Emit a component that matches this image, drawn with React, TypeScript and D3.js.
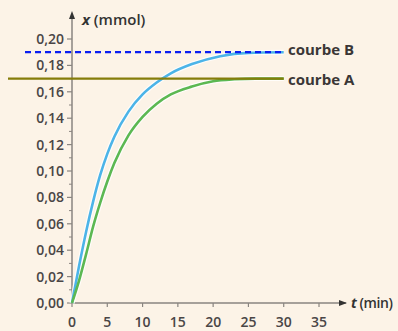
import React from 'react';
import * as d3 from 'd3';

const timesB = [0, 1, 2, 3, 4, 5, 6, 8, 10, 12, 14, 17, 21, 25, 30];
const courbeB = [0, 0.028, 0.054, 0.077, 0.097, 0.113, 0.126, 0.145, 0.158, 0.167, 0.174, 0.181, 0.187, 0.1895, 0.19];
const timesA = [0, 1, 2, 3, 4, 5, 6, 8, 10, 12, 14, 17, 20, 23, 26, 30];
const courbeA = [0, 0.017, 0.037, 0.058, 0.076, 0.092, 0.106, 0.127, 0.141, 0.151, 0.158, 0.164, 0.168, 0.1695, 0.17, 0.17];
const asymptoteB = 0.19;
const asymptoteA = 0.17;
const xTicks = [0, 5, 10, 15, 20, 25, 30, 35];
const yTicks = [0, 0.02, 0.04, 0.06, 0.08, 0.1, 0.12, 0.14, 0.16, 0.18, 0.2];
const yMinor = [0.01, 0.03, 0.05, 0.07, 0.09, 0.11, 0.13, 0.15, 0.17, 0.19];

const W = 398;
const H = 331;
const font = '"Open Sans", sans-serif';

const App = () => {
  const x = d3.scaleLinear().domain([0, 35]).range([72, 319]);
  const y = d3.scaleLinear().domain([0, 0.2]).range([303, 39]);

  const makePath = (ts: number[], vs: number[]) =>
    d3.line<number>()
      .x((_, i) => x(ts[i]))
      .y(d => y(d))
      .curve(d3.curveMonotoneX)(vs) || '';

  const pathB = makePath(timesB, courbeB);
  const pathA = makePath(timesA, courbeA);

  const axisColor = '#8a8580';
  const textColor = '#4a4646';

  return (
    <>
      <style>{`body{margin:0}`}</style>
      <svg width={W} height={H} style={{ display: 'block', fontFamily: font }}>
        <rect width={W} height={H} fill="#fcf3e7" />

        {/* axes */}
        <line x1={x(0)} y1={y(0)} x2={346} y2={y(0)} stroke={axisColor} strokeWidth={1.5} />
        <line x1={x(0)} y1={y(0)} x2={x(0)} y2={14} stroke={axisColor} strokeWidth={1.5} />
        <path d={`M${347},${y(0)} l-8,-3 l0,6 z`} fill="#333" />
        <path d={`M${x(0)},${11} l-3,8 l6,0 z`} fill="#333" />

        {/* y ticks */}
        {yTicks.map(t => (
          <g key={`y${t}`}>
            <line x1={x(0) - 5} x2={x(0)} y1={y(t)} y2={y(t)} stroke={axisColor} strokeWidth={1.2} />
            <text x={64} y={y(t) + 5} textAnchor="end" fontSize={14} fontWeight={600} fill={textColor}>
              {t.toFixed(2).replace('.', ',')}
            </text>
          </g>
        ))}
        {yMinor.map(t => (
          <line key={`m${t}`} x1={x(0) - 3} x2={x(0)} y1={y(t)} y2={y(t)} stroke={axisColor} strokeWidth={1} />
        ))}

        {/* x ticks */}
        {xTicks.map(t => (
          <g key={`x${t}`}>
            <line x1={x(t)} x2={x(t)} y1={y(0)} y2={y(0) + 4} stroke={axisColor} strokeWidth={1.2} />
            <text x={x(t)} y={327} textAnchor="middle" fontSize={14} fontWeight={600} fill={textColor}>
              {t}
            </text>
          </g>
        ))}

        {/* axis titles */}
        <text x={82} y={25} fontSize={15} fontWeight={600} fill="#333">
          <tspan fontStyle="italic" fontWeight={700}>x</tspan> (mmol)
        </text>
        <text x={351} y={308} fontSize={14} fontWeight={600} fill="#333" letterSpacing={-0.4}>
          <tspan fontStyle="italic" fontWeight={700}>t</tspan> (min)
        </text>

        {/* curves with halo */}
        <path d={pathB} fill="none" stroke="#ffffff" strokeOpacity={0.8} strokeWidth={5} />
        <path d={pathA} fill="none" stroke="#ffffff" strokeOpacity={0.8} strokeWidth={5} />
        <path d={pathB} fill="none" stroke="#4cb4e8" strokeWidth={2.6} />
        <path d={pathA} fill="none" stroke="#5cb852" strokeWidth={2.6} />

        {/* asymptotes */}
        <line x1={25} x2={x(30)} y1={y(asymptoteB)} y2={y(asymptoteB)} stroke="#0a1ef0" strokeWidth={2.2} strokeDasharray="6,4" />
        <line x1={8} x2={x(30)} y1={y(asymptoteA)} y2={y(asymptoteA)} stroke="#857d0a" strokeWidth={2.2} />

        {/* labels */}
        <text x={288} y={55} fontSize={15} fontWeight={700} fill="#3a3636">courbe B</text>
        <text x={288} y={85} fontSize={15} fontWeight={700} fill="#3a3636">courbe A</text>
      </svg>
    </>
  );
};

export default App;
